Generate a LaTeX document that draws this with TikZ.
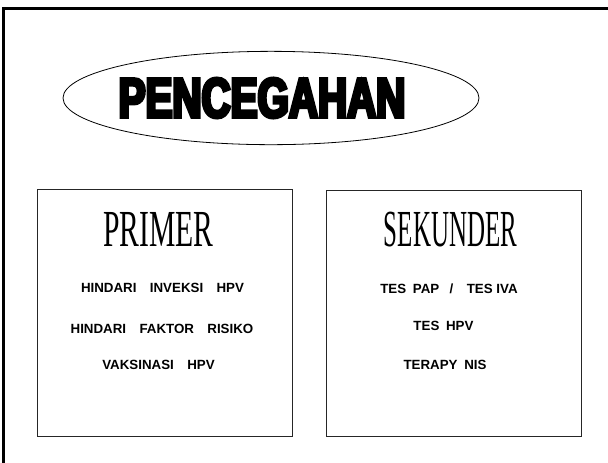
\documentclass[tikz,border=0pt]{standalone}
\usepackage{fontspec}
\setmainfont{Liberation Serif}
\newfontfamily\itemfont{Liberation Sans}
\newfontfamily\titlefont[FakeBold=6,FakeStretch=0.72]{Liberation Sans}
\usepackage{tikz}
\usetikzlibrary{shapes.geometric}

\begin{document}
\begin{tikzpicture}[
        x=0.75pt,
        y=-0.75pt,
        banner/.style={draw,semithick,ellipse,minimum width=312pt,minimum height=70pt,inner sep=0pt},
        titletext/.style={inner sep=0pt,font=\titlefont\bfseries\fontsize{42}{42}\selectfont},
        panel/.style={draw,semithick,black!85},
        heading/.style={anchor=base,inner sep=0pt,font=\fontsize{39}{39}\selectfont},
        entry/.style={anchor=base,inner sep=0pt,font=\itemfont\bfseries\fontsize{10}{12}\selectfont}
    ]
        \useasboundingbox (0,0) rectangle (608,462);
        \draw[line width=2pt] (3.5,8.5) rectangle (640,490);
        % title
        \node[banner] (oval) at (271,98) {};
        \node[titletext] (title) at (262,98) {PENCEGAHAN};
        % left panel
        \draw[panel] (37,189.5) rectangle (292,436);
        \node[heading,xscale=0.57] (primer) at (158.5,246.5) {PRIMER};
        \node[entry] (hpv) at (162.5,292.5) {HINDARI\quad INVEKSI\quad HPV};
        \node[entry] (risiko) at (162,333) {HINDARI\quad FAKTOR\quad RISIKO};
        \node[entry] (vaksin) at (158.5,369) {VAKSINASI\quad HPV};
        % right panel
        \draw[panel] (326,190) rectangle (581,436);
        \node[heading,xscale=0.48] (sekunder) at (450.5,246.5) {SEKUNDER};
        \node[entry] (pap) at (449,293) {TES\enspace PAP\enspace\ /\quad TES\ IVA};
        \node[entry] (teshpv) at (443.5,330) {TES\enspace HPV};
        \node[entry] (terapy) at (445,369) {TERAPY\enspace NIS};
    \end{tikzpicture}
\end{document}
